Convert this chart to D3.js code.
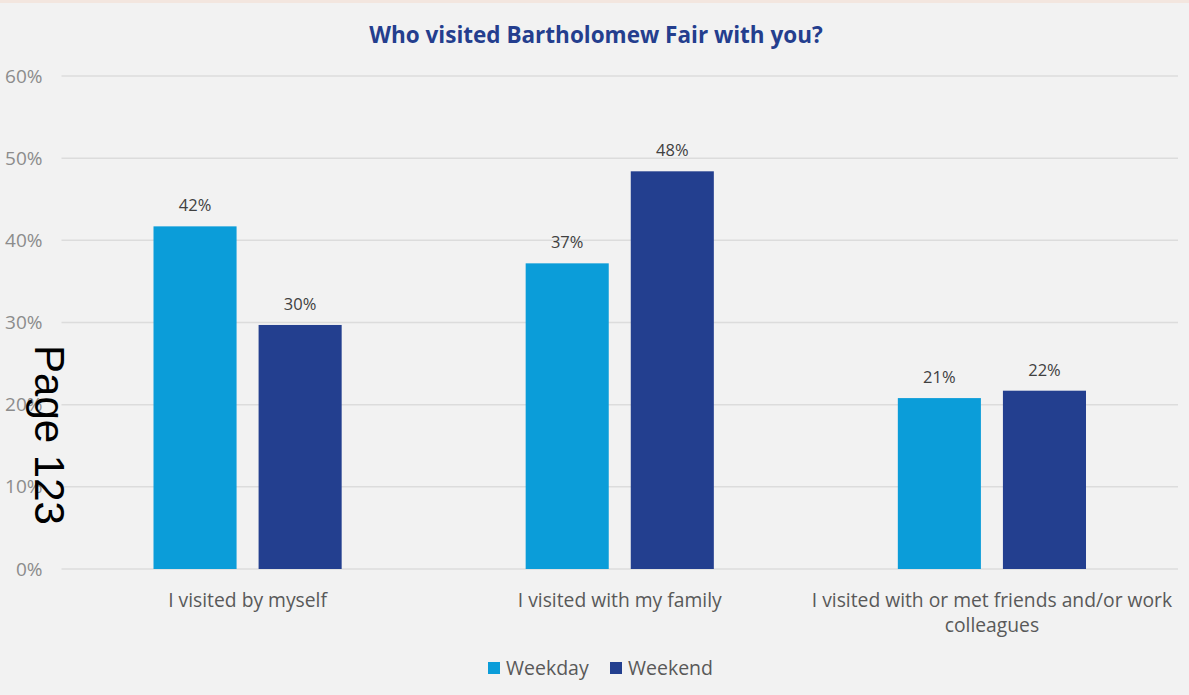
<!DOCTYPE html>
<html>
<head>
<meta charset="utf-8">
<script src="https://cdn.jsdelivr.net/npm/d3@7"></script>
<style>
  body { margin: 0; background: #f2f2f2; }
  svg { display: block; font-family: "Open Sans", sans-serif; }
</style>
</head>
<body>
<div id="content"></div>
<script>
// data
const categories = ['I visited by myself', 'I visited with my family', 'I visited with or met friends and/or work colleagues'];
const seriesNames = ['Weekday', 'Weekend'];
const weekday = [41.7, 37.2, 20.8];
const weekend = [29.7, 48.4, 21.7];
const weekdayLabels = ['42%', '37%', '21%'];
const weekendLabels = ['30%', '48%', '22%'];
const yTicks = [0, 10, 20, 30, 40, 50, 60];

const colors = ['#0b9dd9', '#233f8f'];

var width = 1189;
var height = 695;
var margin = {top: 76, right: 11, bottom: 126, left: 61.5};

var svg = d3.select('#content')
  .append('svg')
  .attr('width', width)
  .attr('height', height);

svg.append('rect')
  .attr('width', width).attr('height', height)
  .attr('fill', '#f2f2f2');

// faint top border
svg.append('line')
  .attr('x1', 0).attr('x2', width)
  .attr('y1', 1.5).attr('y2', 1.5)
  .attr('stroke', '#f3e6df').attr('stroke-width', 3);

svg.append('text')
  .attr('x', 596).attr('y', 43)
  .attr('text-anchor', 'middle')
  .attr('font-size', 22.5)
  .attr('font-weight', 'bold')
  .attr('fill', '#243e8e')
  .text('Who visited Bartholomew Fair with you?');

var x = d3.scaleBand()
  .domain(categories)
  .range([margin.left, width - margin.right]);

var xInner = d3.scaleBand()
  .domain(seriesNames)
  .range([92, x.bandwidth() - 92])
  .paddingInner(22 / 105);

var y = d3.scaleLinear()
  .domain([0, 60])
  .range([height - margin.bottom, margin.top]);

// gridlines
svg.append('g')
  .selectAll('line')
  .data(yTicks)
  .enter()
  .append('line')
  .attr('x1', margin.left).attr('x2', width - margin.right)
  .attr('y1', d => y(d)).attr('y2', d => y(d))
  .attr('stroke', '#dcdcdc')
  .attr('stroke-width', 1.5);

var yAxis = d3.axisLeft(y)
  .tickValues(yTicks)
  .tickFormat(d => d + '%')
  .tickSize(0)
  .tickPadding(19);

svg.append('g')
  .attr('transform', 'translate(' + margin.left + ',0)')
  .call(yAxis)
  .call(g => g.select('.domain').remove())
  .call(g => g.selectAll('text')
    .attr('font-size', 19)
    .attr('fill', '#8c8c8c')
    .attr('font-family', '"Open Sans", sans-serif'));

var series = [
  {name: 'Weekday', values: weekday, labels: weekdayLabels, color: colors[0]},
  {name: 'Weekend', values: weekend, labels: weekendLabels, color: colors[1]}
];

series.forEach(function (s) {
  var g = svg.append('g');
  g.selectAll('rect')
    .data(categories)
    .enter()
    .append('rect')
    .attr('x', c => x(c) + xInner(s.name))
    .attr('width', xInner.bandwidth())
    .attr('y', (c, i) => y(s.values[i]))
    .attr('height', (c, i) => y(0) - y(s.values[i]))
    .attr('fill', s.color);

  g.selectAll('text')
    .data(categories)
    .enter()
    .append('text')
    .attr('x', c => x(c) + xInner(s.name) + xInner.bandwidth() / 2)
    .attr('y', (c, i) => y(s.values[i]) - 15)
    .attr('text-anchor', 'middle')
    .attr('font-size', 16.5)
    .attr('fill', '#404040')
    .text((c, i) => s.labels[i]);
});

// category labels, wrapped like the original
var catLines = [['I visited by myself'], ['I visited with my family'], ['I visited with or met friends and/or work', 'colleagues']];
categories.forEach(function (c, i) {
  var t = svg.append('text')
    .attr('x', x(c) + x.bandwidth() / 2)
    .attr('y', 607)
    .attr('text-anchor', 'middle')
    .attr('font-size', 19.3)
    .attr('fill', '#595959');
  catLines[i].forEach(function (line, j) {
    t.append('tspan')
      .attr('x', x(c) + x.bandwidth() / 2)
      .attr('dy', j === 0 ? 0 : 25)
      .text(line);
  });
});

// legend
var legend = svg.append('g');
var legendX = [488, 610];
series.forEach(function (s, i) {
  legend.append('rect')
    .attr('x', legendX[i]).attr('y', 662)
    .attr('width', 12).attr('height', 12)
    .attr('fill', s.color);
  legend.append('text')
    .attr('x', legendX[i] + 18).attr('y', 675)
    .attr('font-size', 19.5)
    .attr('fill', '#595959')
    .text(s.name);
});

// page stamp
svg.append('text')
  .attr('transform', 'translate(35,435) rotate(90)')
  .attr('text-anchor', 'middle')
  .attr('font-family', '"Liberation Sans", Arial, sans-serif')
  .attr('font-size', 42)
  .attr('fill', '#000')
  .text('Page 123');
</script>
</body>
</html>
